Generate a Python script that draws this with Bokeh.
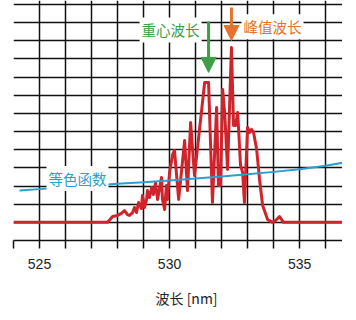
from bokeh.plotting import figure
from bokeh.models import FixedTicker, Label, Arrow, NormalHead, Range1d, Title
from bokeh.embed import file_html
from bokeh.resources import INLINE

# Spectrum (red)
spec_wl = [524.00, 527.62, 527.81, 528.00, 528.15, 528.27, 528.38, 528.46, 528.58, 528.65,
           528.73, 528.81, 528.92, 528.96, 529.04, 529.12, 529.15, 529.23, 529.31, 529.38,
           529.46, 529.54, 529.62, 529.69, 529.73, 529.81, 529.88, 529.92, 530.00, 530.12,
           530.19, 530.35, 530.58, 530.69, 530.81, 530.96, 531.35, 531.50, 531.65, 531.81,
           531.88, 531.96, 532.04, 532.12, 532.23, 532.38, 532.46, 532.54, 532.62, 532.73,
           532.81, 532.88, 533.00, 533.08, 533.15, 533.23, 533.35, 533.46, 533.58, 533.77,
           533.96, 534.08, 534.23, 534.38, 536.65]
spec_val = [1.0, 1.0, 1.32, 1.38, 1.49, 1.65, 1.43, 1.38, 1.54, 1.82,
            1.54, 2.09, 1.76, 2.48, 1.82, 2.26, 2.75, 2.37, 2.92, 2.53,
            3.20, 2.26, 2.92, 3.47, 2.26, 1.71, 3.03, 2.26, 3.75, 4.74,
            4.96, 2.26, 5.51, 2.75, 6.50, 3.58, 8.71, 8.71, 2.09, 7.33,
            3.03, 3.03, 8.32, 7.05, 3.91, 10.63, 6.34, 6.34, 7.05, 4.13,
            3.75, 2.09, 6.23, 5.95, 6.12, 5.95, 5.01, 3.36, 1.93, 1.16,
            1.0, 1.10, 1.32, 1.0, 1.0]

# Colour matching function (blue)
cmf_wl = [524.23, 525, 526, 527, 528, 529, 530, 531, 532, 533, 534, 535, 536, 536.65]
cmf_val = [2.75, 2.83, 2.93, 3.03, 3.12, 3.21, 3.31, 3.42, 3.53, 3.65, 3.78, 3.93, 4.12, 4.28]

x_ticks = list(range(524, 537))
x_tick_labels = {525: "525", 530: "530", 535: "535"}
y_grid = list(range(0, 14))
x_title = "波长 [nm]"

centroid_wl = 531.5
centroid_val = 8.71
peak_wl = 532.38
peak_val = 10.63

RED = "#d0232b"
BLUE = "#2a9fd2"
GREEN = "#3d9e48"
ORANGE = "#e6732b"
CJK = "Noto Sans CJK SC"

p = figure(frame_width=329, frame_height=240, output_backend="svg", toolbar_location=None,
           x_range=Range1d(524, 536.65), y_range=Range1d(0, 13.22),
           min_border_left=13, min_border_right=0, min_border_top=0, min_border_bottom=64)
p.outline_line_color = None
p.background_fill_color = "white"
p.border_fill_color = "white"
p.yaxis.visible = False

ax = p.xaxis[0]
ax.ticker = FixedTicker(ticks=x_ticks)
ax.major_label_overrides = {t: x_tick_labels.get(t, "") for t in x_ticks}
ax.major_tick_out = 8
ax.major_tick_in = 0
ax.minor_tick_line_color = None
ax.axis_line_color = "#111111"
ax.axis_line_width = 1.5
ax.major_tick_line_color = "#111111"
ax.major_tick_line_width = 1.5
ax.major_label_text_font = "Liberation Sans"
ax.major_label_text_font_size = "14px"
ax.major_label_text_color = "#222222"
ax.major_label_standoff = 10

p.xgrid[0].ticker = FixedTicker(ticks=x_ticks)
p.ygrid[0].ticker = FixedTicker(ticks=y_grid)
for g in (p.xgrid[0], p.ygrid[0]):
    g.grid_line_color = "#111111"
    g.grid_line_width = 1.5
    g.grid_line_alpha = 1.0

p.line(spec_wl, spec_val, line_color=RED, line_width=3, line_join="round")
p.line(cmf_wl, cmf_val, line_color=BLUE, line_width=2)

# Arrows
p.add_layout(Arrow(end=NormalHead(size=15, fill_color=GREEN, line_color=GREEN),
                   x_start=centroid_wl, y_start=12.07, x_end=centroid_wl, y_end=centroid_val + 0.55,
                   line_color=GREEN, line_width=3))
p.add_layout(Arrow(end=NormalHead(size=15, fill_color=ORANGE, line_color=ORANGE),
                   x_start=peak_wl, y_start=12.84, x_end=peak_wl, y_end=peak_val + 0.39,
                   line_color=ORANGE, line_width=3))

for txt, x, y, col in [("重心波长", 530.04, 11.6, GREEN),
                       ("峰值波长", 533.96, 11.78, ORANGE),
                       ("等色函数", 526.46, 3.42, BLUE)]:
    p.add_layout(Label(x=x, y=y, text=txt, text_color=col, text_font=CJK,
                       text_font_size="14.5px", text_align="center", text_baseline="middle",
                       background_fill_color="white", padding=2))

# x-axis title as a title placed below the axis
p.add_layout(Title(text=x_title, align="left", offset=142, text_color="#222222",
                   text_font=CJK, text_font_size="14px", text_font_style="normal",
                   standoff=28), "below")

open("out.html", "w").write(file_html(p, INLINE))
